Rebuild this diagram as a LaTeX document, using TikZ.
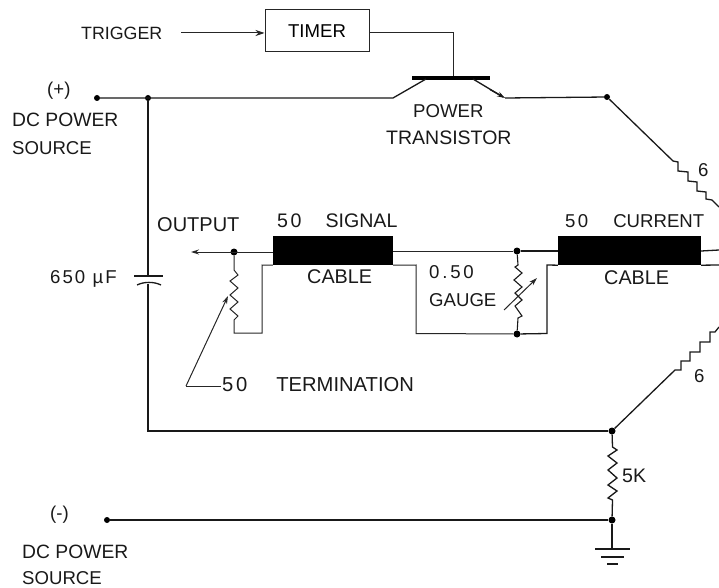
\documentclass[tikz,border=0pt]{standalone}
\usepackage{fontspec}
\setmainfont{Liberation Sans}
\usetikzlibrary{arrows.meta}
\newcommand{\widedigits}[1]{{\addfontfeature{LetterSpace=13}#1}}
\tikzset{
  wire/.style={line width=1.3pt,line join=miter,black!90},
  thin wire/.style={line width=1pt,black!85},
  dot/.style={circle,fill=black,inner sep=0pt,minimum size=7pt},
  lbl/.style={anchor=west,inner sep=0pt,text=black!90,font=\fontsize{18.6}{20}\selectfont},
  fsize/.style={font=\fontsize{#1}{20}\selectfont},
  cable/.style={fill=black,draw=none},
  box/.style={draw,line width=1pt,black!85,inner sep=0pt,minimum width=104pt,minimum height=42pt,text=black,font=\fontsize{18.6}{20}\selectfont},
  tip/.style={-{Stealth[length=9pt,width=6pt]}},
}
\begin{document}
\begin{tikzpicture}[x=1pt,y=-1pt]
\useasboundingbox (0,0) rectangle (719,588);
% text
\node[lbl,fsize=17.8] (ttrig) at (81,33) {TRIGGER};
\node[box] (timer) at (317,31) {TIMER};
\node[lbl] (tplus) at (47,91) {(+)};
\node[lbl,fsize=19.3] (tdc1) at (12,120) {DC POWER};
\node[lbl] (tsrc1) at (12,148) {SOURCE};
\node[lbl] (tpow) at (413,111) {POWER};
\node[lbl,fsize=19.5] (ttran) at (386,138) {TRANSISTOR};
\node[lbl] (tsix1) at (698,170) {6};
\node[lbl,fsize=20] (tout) at (157,225) {OUTPUT};
\node[lbl,fsize=19.6] (tsig) at (277,221) {\widedigits{50}\hspace{24pt}SIGNAL};
\node[lbl] (tcur) at (565,221) {\widedigits{50}\hspace{25pt}CURRENT};
\node[lbl,fsize=19.8] (tcab1) at (307,277) {CABLE};
\node[lbl,fsize=19.8] (tcab2) at (604,278) {CABLE};
\node[lbl] (tgau1) at (429,272) {\addfontfeature{LetterSpace=15}0.50};
\node[lbl] (tgau2) at (429,300) {GAUGE};
\node[lbl] (tcap) at (50,279) {\addfontfeature{LetterSpace=11}650 µF};
\node[lbl,fsize=20.2] (tterm) at (222,385) {\widedigits{50}\hspace{29pt}TERMINATION};
\node[lbl] (tsix2) at (694,376) {6};
\node[lbl,fsize=19.6] (t5k) at (622,476) {5K};
\node[lbl] (tminus) at (50,515) {(-)};
\node[lbl,fsize=19.3] (tdc2) at (22,552) {DC POWER};
\node[lbl] (tsrc2) at (22,578) {SOURCE};
% cables
\node[cable,minimum width=120pt,minimum height=29pt,inner sep=0pt] (sig) at (333,250.5) {};
\node[cable,minimum width=143pt,minimum height=29pt,inner sep=0pt] (cur) at (629.5,250.5) {};
% junctions
\node[dot,minimum size=6pt] (plus) at (97,98) {};
\node[dot,minimum size=6pt] (jtop) at (148,98) {};
\node[dot,minimum size=6pt] (jbr) at (607,97) {};
\node[dot] (jout) at (234,252) {};
\node[dot] (jg1) at (517,251) {};
\node[dot] (jg2) at (517,334) {};
\node[dot] (jbot) at (612,431) {};
\node[dot] (jlow) at (612,520) {};
\node[dot,minimum size=6pt] (minus) at (107,520) {};
% named free ends
\coordinate (bar1) at (412,78);
\coordinate (bar2) at (490,78);
\coordinate (base) at (453,78);
\coordinate (outend) at (191,252);
\coordinate (cap1) at (148,276);
\coordinate (cap2) at (148,284);
\coordinate (gnd) at (612,549);
% trigger and timer
\draw[thin wire,tip] (181,33) -- (timer.west |- 0,33);
\draw[thin wire] (timer.east |- 0,33) -| (base);
% transistor
\draw[line width=3.6pt,black] (bar1) -- (bar2);
\draw[wire] (plus) -- (393,98) -- (426,79);
\draw[wire] (473,79) -- (503,97);
\draw[wire,-{Stealth[length=8pt,width=5pt]}] (490,89.5) -- (505,98);
\draw[wire] (505,98) -- (jbr);
% upper bridge arm
\draw[wire] (jbr) -- (673,161) -- (678,162) -- (678,171) -- (688,172) -- (688,181) -- (697,182) -- (697,191) -- (706,192) -- (706,199) -- (712,200) -- (719,207);
% lower bridge arm
\draw[wire] (jbot) -- (675,370) -- (681,370) -- (681,361) -- (690,361) -- (690,352) -- (700,352) -- (700,342) -- (710,342) -- (710,332) -- (715,332) -- (719,327);
% capacitor
\draw[wire] (jtop) -- (cap1);
\draw[wire] (134,276) -- (163,276);
\draw[wire] (137,285) .. controls (144,281.5) and (154,281.5) .. (161,285);
\draw[wire] (cap2) -- (148,431) -- (jbot);
% output side
\draw[thin wire,-{Stealth[length=8pt,width=5pt]}] (sig.west |- jout) -- (outend);
\draw[thin wire] (jout) -- (234,270) -- (238,275) -- (230,281) -- (238,288) -- (230,295) -- (238,302) -- (230,309) -- (238,316) -- (234,320) -- (234,333) -- (262,333) -- (262,265) -- (sig.south west);
% leader
\draw[thin wire] (221,386) -- (186,386);
\draw[thin wire,-{Stealth[length=8pt,width=5pt]}] (186,386) -- (228,296);
% between the cables
\draw[thin wire] (sig.east |- jg1) -- (jg1);
\draw[wire] (jg1) -- (cur.west |- jg1);
\draw[thin wire] (sig.south east) -- (416,265) -- (416,333.5) -- (jg2);
\draw[wire] (jg2) -- (547,333.5) -- (547,265) -- (cur.south west);
\draw[wire,line width=1.1pt] (jg1) -- (518,265) -- (515,267) -- (522,273) -- (514,280) -- (522,287) -- (515,293) -- (522,300) -- (515,306) -- (522,316) -- (518,318) -- (jg2);
\draw[thin wire,-{Stealth[length=8pt,width=5pt]}] (504,310) -- (537,278);
% right of current cable
\draw[wire] (cur.east |- jg1) -- (719,250);
\draw[wire] (cur.south east) -- (719,265);
% 5K and return
\draw[wire] (jbot) -- (612.5,447) -- (617,450) -- (608,456) -- (617,463) -- (608,470) -- (617,478) -- (608,485) -- (617,491) -- (608,498) -- (612.5,500) -- (jlow);
\draw[wire] (minus) -- (jlow);
\draw[wire] (jlow) -- (gnd);
\draw[wire] (595,549) -- (630,549);
\draw[wire] (601,557) -- (624,557);
\draw[wire] (607,564) -- (618,564);
\end{tikzpicture}
\end{document}
